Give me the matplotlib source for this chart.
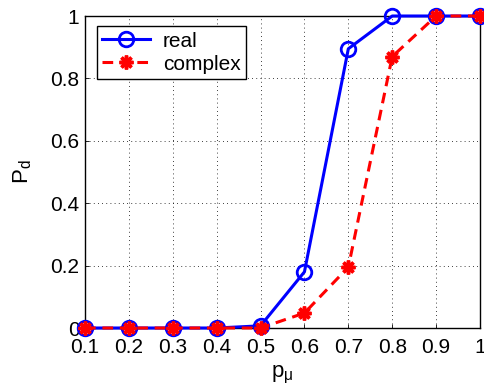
import matplotlib
matplotlib.use("Agg")
import matplotlib.pyplot as plt

plt.rcParams['font.family'] = ['Liberation Sans', 'DejaVu Sans']

p_mu = [0.1, 0.2, 0.3, 0.4, 0.5, 0.6, 0.7, 0.8, 0.9, 1.0]
real = [0, 0, 0, 0, 0.007, 0.18, 0.895, 1, 1, 1]
complex_ = [0, 0, 0, 0, 0, 0.048, 0.195, 0.87, 1, 1]
xticks = [0.1, 0.2, 0.3, 0.4, 0.5, 0.6, 0.7, 0.8, 0.9, 1]
xticklabels = ['0.1', '0.2', '0.3', '0.4', '0.5', '0.6', '0.7', '0.8', '0.9', '1']
yticks = [0, 0.2, 0.4, 0.6, 0.8, 1]
yticklabels = ['0', '0.2', '0.4', '0.6', '0.8', '1']

fig = plt.figure(figsize=(4.85, 3.92), dpi=100)
ax = fig.add_axes([85/485, 1 - 328/392, (480-85)/485, (328-16)/392])

ax.plot(p_mu, real, '-o', color='#0000ff', lw=2.2, ms=10.5, mfc='none', mew=2, label='real', clip_on=False, zorder=3)
ax.plot(p_mu, complex_, '--', marker=(8, 2, 0), color='#ff0000', lw=2.2, ms=10, mew=2.5, label='complex',
        clip_on=False, zorder=4, dashes=(3.5, 2.2))

ax.set_xlim(0.1, 1)
ax.set_ylim(0, 1)
ax.set_xticks(xticks)
ax.set_xticklabels(xticklabels)
ax.set_yticks(yticks)
ax.set_yticklabels(yticklabels)
ax.tick_params(direction='in', labelsize=15, length=3, width=0.6, pad=4)
ax.tick_params(axis='x', pad=7)
ax.grid(True, color='black', linestyle=(0, (1, 4)), linewidth=0.6)
for s in ax.spines.values():
    s.set_linewidth(1.0)

ax.set_xlabel(r'p$_\mathregular{\mu}$', fontsize=16, labelpad=5)
ax.set_ylabel(r'P$_\mathregular{d}$', fontsize=16, labelpad=12)

leg = ax.legend(loc='upper left', fontsize=15, frameon=True, fancybox=False,
                edgecolor='black', framealpha=1, borderpad=0.25, handlelength=2.3,
                handletextpad=0.6, labelspacing=0.2, bbox_to_anchor=(0.02, 0.98),
                borderaxespad=0.2)
leg.get_frame().set_linewidth(1.0)

fig.savefig('out.png', dpi=100)
